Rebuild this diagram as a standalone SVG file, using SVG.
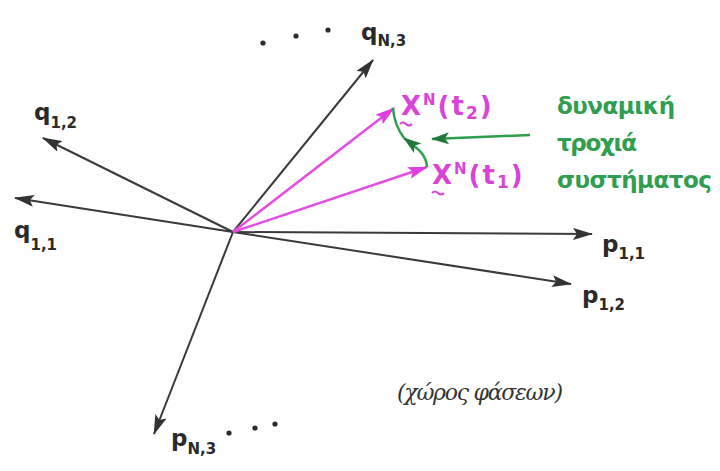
<svg xmlns="http://www.w3.org/2000/svg" width="720" height="471" viewBox="0 0 720 471">
<style>
.ax{stroke:#3a3a3a;stroke-width:2;fill:none}
.mg{stroke:#e54ce3;stroke-width:2.5;fill:none}
.gr{stroke:#2e9e4e;stroke-width:2.5;fill:none}
.lbl{font-family:"DejaVu Sans","Liberation Sans",sans-serif;font-weight:bold;fill:#2a2a2a}
.mt{font-family:"DejaVu Sans","Liberation Sans",sans-serif;font-weight:bold;fill:#d944d8}
.gt{font-family:"DejaVu Sans","Liberation Sans",sans-serif;font-weight:bold;fill:#2f9e50}
.note{font-family:"DejaVu Serif","Liberation Serif",serif;font-style:italic;fill:#333}
.dot{fill:#2a2a2a}
</style>
<defs>
<marker id="ah" markerUnits="userSpaceOnUse" markerWidth="20" markerHeight="12" viewBox="0 0 20 12" refX="19" refY="6" orient="auto">
<path d="M0,0 L20,6 L0,12 L4,6 z" fill="#333"/>
</marker>
<marker id="ahm" markerUnits="userSpaceOnUse" markerWidth="20" markerHeight="12" viewBox="0 0 20 12" refX="19" refY="6" orient="auto">
<path d="M0,0 L20,6 L0,12 L4,6 z" fill="#e03ee0"/>
</marker>
<marker id="ahg" markerUnits="userSpaceOnUse" markerWidth="18" markerHeight="12" viewBox="0 0 18 12" refX="17" refY="6" orient="auto">
<path d="M0,0 L18,6 L0,12 L4,6 z" fill="#1f7a3a"/>
</marker>
</defs>
<g id="connectors">
<line class="ax" x1="233" y1="232" x2="373" y2="60" marker-end="url(#ah)"/>
<line class="ax" x1="233" y1="232" x2="43" y2="138" marker-end="url(#ah)"/>
<line class="ax" x1="233" y1="232" x2="15" y2="198" marker-end="url(#ah)"/>
<line class="ax" x1="233" y1="232" x2="592" y2="234" marker-end="url(#ah)"/>
<line class="ax" x1="233" y1="232" x2="571" y2="284" marker-end="url(#ah)"/>
<line class="ax" x1="233" y1="232" x2="154" y2="434" marker-end="url(#ah)"/>
<line class="mg" x1="233" y1="232" x2="394" y2="108" marker-end="url(#ahm)"/>
<line class="mg" x1="233" y1="232" x2="427" y2="167" marker-end="url(#ahm)"/>
<path class="gr" d="M427,167 C426,155 420,150 404,138" marker-end="url(#ahg)"/>
<path class="gr" d="M404,138 C398,130 394,122 393,108"/>
<line class="gr" x1="530" y1="135" x2="432" y2="139" marker-end="url(#ahg)"/>
</g>
<g id="q13">
<circle class="dot" cx="263" cy="43" r="2.6"/><circle class="dot" cx="296" cy="36" r="2.6"/><circle class="dot" cx="328" cy="30" r="2.6"/>
<text class="lbl" x="361" y="40" font-size="23">q<tspan font-size="15" dy="6">N,3</tspan></text>
</g>
<g id="q12"><text class="lbl" x="34" y="120" font-size="23">q<tspan font-size="15" dy="8">1,2</tspan></text></g>
<g id="q11"><text class="lbl" x="14" y="238" font-size="23">q<tspan font-size="15" dy="12">1,1</tspan></text></g>
<g id="p11"><text class="lbl" x="602" y="252" font-size="23">p<tspan font-size="15" dy="7">1,1</tspan></text></g>
<g id="p12"><text class="lbl" x="582" y="303" font-size="23">p<tspan font-size="15" dy="7">1,2</tspan></text></g>
<g id="pN3">
<text class="lbl" x="171" y="446" font-size="23">p<tspan font-size="15" dy="8">N,3</tspan></text>
<circle class="dot" cx="229" cy="433" r="2.6"/><circle class="dot" cx="255" cy="428" r="2.6"/><circle class="dot" cx="275" cy="424" r="2.6"/>
</g>
<g id="xt2">
<text class="mt" x="401" y="115" font-size="26" letter-spacing="2">X<tspan font-size="15" dy="-10">N</tspan><tspan dy="10">(t</tspan><tspan font-size="17" dy="4">2</tspan><tspan dy="-4">)</tspan></text>
<path d="M400,124 q3,-3 6,0 t6,0" stroke="#d944d8" stroke-width="2" fill="none"/>
</g>
<g id="xt1">
<text class="mt" x="432" y="184" font-size="26" letter-spacing="2">X<tspan font-size="15" dy="-10">N</tspan><tspan dy="10">(t</tspan><tspan font-size="17" dy="4">1</tspan><tspan dy="-4">)</tspan></text>
<path d="M432,193 q3,-3 6,0 t6,0" stroke="#d944d8" stroke-width="2" fill="none"/>
</g>
<g id="traj">
<text class="gt" x="557" y="114" font-size="23" textLength="118">δυναμική</text>
<text class="gt" x="557" y="151" font-size="23" textLength="80">τροχιά</text>
<text class="gt" x="557" y="188" font-size="23" textLength="155">συστήματος</text>
</g>
<g id="phase"><text class="note" x="397" y="400" font-size="22" textLength="166">(χώρος φάσεων)</text></g>
</svg>
